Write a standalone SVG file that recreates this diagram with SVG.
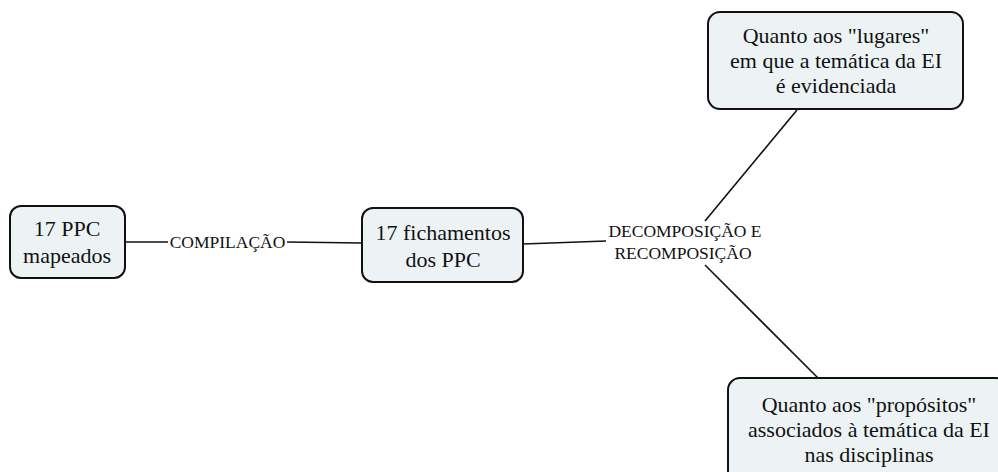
<svg xmlns="http://www.w3.org/2000/svg" width="998" height="472" viewBox="0 0 998 472">
<style>
.node{fill:#edf3f5;stroke:#111;stroke-width:2}
.t{font-family:"Liberation Serif","Times New Roman","DejaVu Serif",serif;font-size:22px;fill:#111;text-anchor:middle}
.lbl{font-family:"Liberation Serif","Times New Roman","DejaVu Serif",serif;font-size:17.5px;fill:#111;text-anchor:middle}
.c{stroke:#111;stroke-width:1.6;fill:none}
</style>
<rect width="998" height="472" fill="#fff"/>
<g id="connectors">
<line class="c" x1="125" y1="242" x2="168" y2="242"/>
<line class="c" x1="287" y1="242" x2="362" y2="243"/>
<line class="c" x1="523" y1="244" x2="606" y2="241"/>
<line class="c" x1="705" y1="221" x2="797" y2="110"/>
<line class="c" x1="705" y1="265" x2="818" y2="378"/>
<text class="lbl" x="227.5" y="248">COMPILAÇÃO</text>
<text class="lbl" x="685" y="237">DECOMPOSIÇÃO E</text>
<text class="lbl" x="683" y="259">RECOMPOSIÇÃO</text>
</g>
<g id="n1">
<rect class="node" x="10" y="206" width="115" height="72" rx="11"/>
<text class="t" x="67" y="236">17 PPC</text>
<text class="t" x="67" y="263">mapeados</text>
</g>
<g id="n2">
<rect class="node" x="362" y="208" width="161" height="74" rx="11"/>
<text class="t" x="443" y="240">17 fichamentos</text>
<text class="t" x="443" y="267">dos PPC</text>
</g>
<g id="n3">
<rect class="node" x="708" y="12" width="255" height="97" rx="12"/>
<text class="t" x="836" y="43">Quanto aos "lugares"</text>
<text class="t" x="836" y="68">em que a temática da EI</text>
<text class="t" x="836" y="93">é evidenciada</text>
</g>
<g id="n4">
<rect class="node" x="728" y="378" width="280" height="110" rx="12"/>
<text class="t" x="869" y="412">Quanto aos "propósitos"</text>
<text class="t" x="869" y="437">associados à temática da EI</text>
<text class="t" x="869" y="462">nas disciplinas</text>
</g>
</svg>
